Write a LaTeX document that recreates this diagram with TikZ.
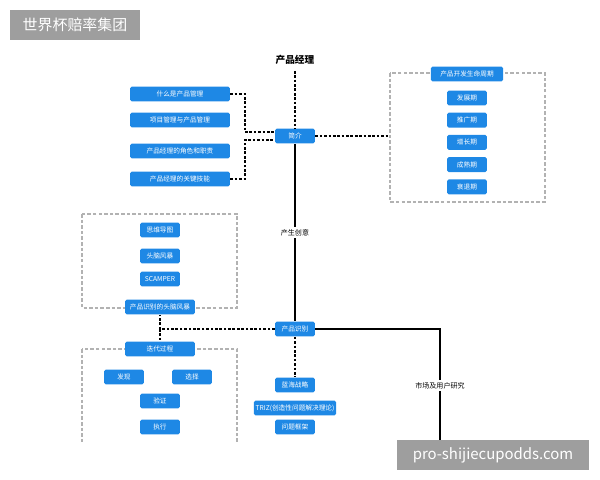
\documentclass[tikz,border=0pt]{standalone}
\usepackage{fontspec}
\setmainfont{Noto Sans CJK SC}
\usetikzlibrary{positioning}
\definecolor{boxblue}{HTML}{1E88E5}
\definecolor{wmgray}{HTML}{9E9E9E}
\begin{document}
\begin{tikzpicture}[x=0.02cm,y=-0.02cm,
	item/.style={rectangle,rounded corners=1pt,fill=boxblue,text=white,inner sep=0pt,minimum height=0.3cm,font=\fontsize{3.8}{4}\selectfont},
	short/.style={item,minimum width=0.8cm},
	long/.style={item,minimum width=2cm},
	group/.style={draw=gray!60,dash pattern=on 2pt off 1.2pt,thick},
	link/.style={dash pattern=on 1.5pt off 1pt,thick},
	main/.style={thick},
	stamp/.style={rectangle,fill=wmgray,text=white,inner sep=0pt,font=\fontsize{8.5}{10}\selectfont}
	]
\useasboundingbox (0,0) rectangle (600,480);

% frames
\draw [group] (390,73) rectangle (545,202);
\draw [group] (82,214) rectangle (237,308);
\draw [group] (82,349) -- (82,442) (237,442) -- (237,349) -- (82,349);

\node [font=\fontsize{5.5}{6}\selectfont\bfseries] (pm) at (295,60) {产品经理};
\node [short] (intro) at (295,136) {简介};

\node [long] (l1) at (180,94) {什么是产品管理};
\node [long] (l2) at (180,120) {项目管理与产品管理};
\node [long] (l3) at (180,151) {产品经理的角色和职责};
\node [long] (l4) at (180,179) {产品经理的关键技能};

\node [item,minimum width=1.45cm] (cycle) at (467,74) {产品开发生命周期};
\node [short] (c1) at (467,98) {发展期};
\node [short] (c2) [below = 0.13cm of c1] {推广期};
\node [short] (c3) [below = 0.13cm of c2] {增长期};
\node [short] (c4) [below = 0.13cm of c3] {成熟期};
\node [short] (c5) [below = 0.13cm of c4] {衰退期};

\node [short] (b1) at (160,230) {思维导图};
\node [short] (b2) at (160,256) {头脑风暴};
\node [short] (b3) at (160,279) {SCAMPER};
\node [item,minimum width=1.4cm] (brain) at (160,307) {产品识别的头脑风暴};

\node [short] (ident) at (295,329) {产品识别};

\node [item,minimum width=1.4cm] (iter) at (160,349) {迭代过程};
\node [short] (i1) at (124,377) {发现};
\node [short] (i2) at (192,377) {选择};
\node [short] (i3) at (160,401) {验证};
\node [short] (i4) at (160,427) {执行};

\node [short] (m1) at (295,385) {蓝海战略};
\node [item,minimum width=1.65cm] (m2) at (295,408) {TRIZ(创造性问题解决理论)};
\node [short] (m3) at (295,427) {问题框架};

\coordinate (down) at (440,442);

% connectors
\draw [link] (pm) -- (intro);
\draw [link] (l1.east) -| (245,132) -- (intro.west |- 0,132);
\draw [link] (l4.east) -| (245,140) -- (intro.west |- 0,140);
\draw [link] (intro) -- (390,136);
\draw [main] (intro) -- node [fill=white,inner sep=1pt,font=\fontsize{4}{5}\selectfont] {产生创意} (ident);
\draw [main] (ident) -| node [pos=0.75,fill=white,inner sep=1pt,font=\fontsize{4}{5}\selectfont] {市场及用户研究} (down);
\draw [link] (ident) -| (brain);
\draw [link] (160,329) -- (iter);
\draw [link] (ident) -- (m1);

% watermarks
\node [stamp,minimum width=2.6cm,minimum height=0.6cm] (wm1) at (75,25) {世界杯赔率集团};
\node [stamp,minimum width=3.86cm,minimum height=0.6cm] (wm2) at (493,455) {pro-shijiecupodds.com};
\end{tikzpicture}
\end{document}
